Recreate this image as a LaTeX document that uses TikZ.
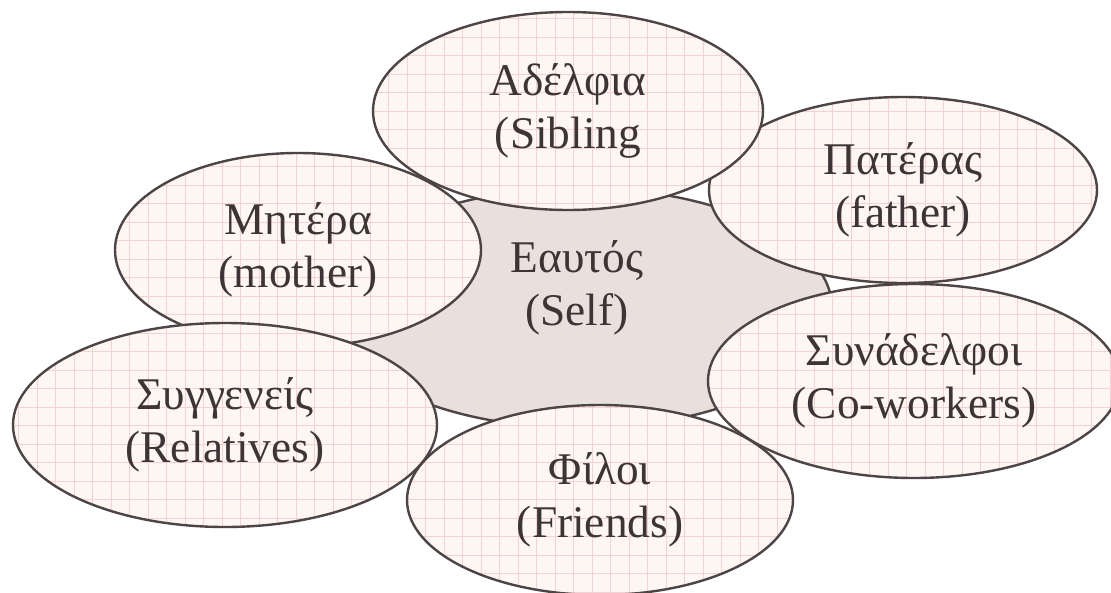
\documentclass[tikz,border=0pt]{standalone}
\usepackage{fontspec}
\setmainfont{Liberation Serif}
\usetikzlibrary{shapes.geometric}
\definecolor{edge}{HTML}{4D4445}
\definecolor{bubbg}{HTML}{FDF6F2}
\definecolor{gridpink}{HTML}{F2D2D2}
\definecolor{selfbg}{HTML}{E9DFDC}
\definecolor{ink}{HTML}{3D3535}
\tikzset{
  bubfill/.style={fill=bubbg},
  gridline/.style={draw=gridpink, line width=0.6pt, step=13.875pt},
  bubline/.style={ellipse, draw=edge, line width=1.8pt, inner sep=0pt, outer sep=0pt,
    align=center, text=ink, font=\fontsize{34}{39.75}\selectfont},
  selfshape/.style={ellipse, draw=edge, fill=selfbg, line width=1.8pt, inner sep=0pt, outer sep=0pt},
  txt/.style={align=center, text=ink, font=\fontsize{34}{39.75}\selectfont}
}
\newcommand\bubble[6]{%
  \path[bubfill] (#2,-#3) ellipse [x radius=#4, y radius=#5];
  \begin{scope}
    \clip (#2,-#3) ellipse [x radius=#4, y radius=#5];
    \draw[gridline] (0,0) grid (1111,-593);
  \end{scope}
  \node[bubline, minimum width=2*#4*0.75pt, minimum height=2*#5*0.75pt] (#1) at (#2,-#3) {#6};
}
\begin{document}
\begin{tikzpicture}[x=0.75pt, y=0.75pt]
\useasboundingbox (0,0) rectangle (1111,-593);
\node[selfshape, minimum width=378pt, minimum height=180pt] (self) at (580,-308) {};
\node[txt] (selftxt) at (577,-288) {Εαυτός\\(Self)};
\bubble{fat}{903}{190}{194}{93}{Πατέρας\\(father)}
\bubble{cow}{914}{381}{206}{97}{Συνάδελφοι\\(Co-workers)}
\bubble{mot}{298}{250}{183}{97}{Μητέρα\\(mother)}
\bubble{rel}{225}{425}{212}{102}{Συγγενείς\\(Relatives)}
\bubble{fri}{600}{500}{193}{95}{Φίλοι\\(Friends)}
\bubble{sib}{568}{111}{195}{99}{Αδέλφια\\(Sibling}
\end{tikzpicture}
\end{document}
